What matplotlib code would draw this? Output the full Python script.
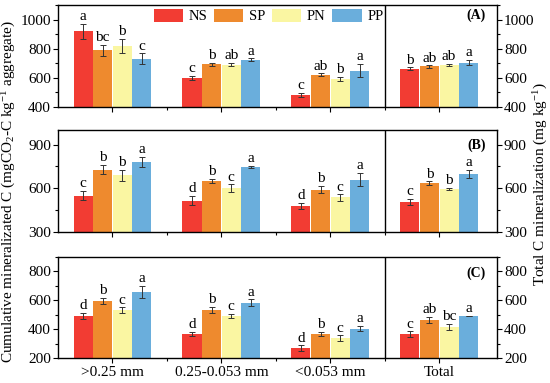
import matplotlib
matplotlib.use("Agg")
import matplotlib.pyplot as plt
from matplotlib.ticker import MultipleLocator, FixedLocator
import numpy as np

plt.rcParams['font.family'] = ['Liberation Serif', 'DejaVu Serif']
plt.rcParams['mathtext.fontset'] = 'custom'
plt.rcParams['mathtext.rm'] = 'Liberation Serif'
plt.rcParams['mathtext.it'] = 'Liberation Serif:italic'
plt.rcParams['mathtext.bf'] = 'Liberation Serif:bold'

categories = ['>0.25 mm', '0.25-0.053 mm', '<0.053 mm', 'Total']
treatments = ['NS', 'SP', 'PN', 'PP']
colors = ['#F23C33', '#EE8A2E', '#FAF6A2', '#6AAEDC']

# Panel A (rows: NS, SP, PN, PP; columns: categories)
a_means = [[920, 597, 483, 662], [788, 692, 621, 678], [820, 690, 591, 690], [730, 724, 650, 705]]
a_errs = [[50, 15, 15, 10], [40, 12, 10, 8], [47, 12, 15, 8], [38, 10, 45, 17]]
a_letters = [['a', 'c', 'c', 'b'], ['bc', 'b', 'ab', 'ab'], ['b', 'ab', 'b', 'ab'], ['c', 'a', 'a', 'a']]

# Panel B
b_means = [[550, 515, 481, 505], [728, 652, 590, 636], [690, 601, 537, 597], [782, 746, 659, 698]]
b_errs = [[32, 32, 20, 22], [33, 15, 25, 12], [38, 25, 22, 8], [35, 8, 45, 28]]
b_letters = [['c', 'd', 'd', 'c'], ['b', 'b', 'b', 'b'], ['b', 'c', 'c', 'b'], ['a', 'a', 'a', 'a']]

# Panel C
c_means = [[490, 368, 268, 366], [594, 531, 368, 462], [531, 490, 336, 416], [656, 583, 403, 490]]
c_errs = [[20, 15, 20, 18], [20, 22, 15, 22], [18, 15, 20, 22], [43, 22, 17, 3]]
c_letters = [['d', 'd', 'd', 'c'], ['b', 'b', 'b', 'ab'], ['c', 'c', 'c', 'bc'], ['a', 'a', 'a', 'a']]

panels = [
    ('(A)', a_means, a_errs, a_letters, (400, 1100), 200, 100, 0.90),
    ('(B)', b_means, b_errs, b_letters, (300, 1000), 300, 150, 0.85),
    ('(C)', c_means, c_errs, c_letters, (200, 900), 200, 100, 0.84),
]

fig = plt.figure(figsize=(5.5, 3.83), dpi=100)
W, H = 550, 383
left, right = 58 / W, 497 / W
rows = [(5, 107), (130, 232), (256.7, 358)]

fs = 11
offsets = np.array([-0.27, -0.09, 0.09, 0.27])
bw = 0.175
xpos = np.arange(len(categories)) + 0.5

for i, (lab, means, errs, letters, ylim, major, minor, ly) in enumerate(panels):
    top, bot = rows[i]
    ax = fig.add_axes([left, 1 - bot / H, right - left, (bot - top) / H])
    for k, t in enumerate(treatments):
        xs = xpos + offsets[k]
        ax.bar(xs, means[k], width=bw, color=colors[k], label=t, zorder=2)
        ax.errorbar(xs, means[k], yerr=errs[k], fmt='none', ecolor='#333333',
                    elinewidth=0.7, capsize=2.3, capthick=0.7, zorder=3)
        for j in range(len(categories)):
            ax.annotate(letters[k][j], (xs[j], means[k][j] + errs[k][j]),
                        xytext=(0, 0.5), textcoords='offset points',
                        ha='center', va='bottom', fontsize=fs)
    ax.axvline(3, color='black', lw=1.0, zorder=4)
    ax.set_xlim(0, 4.03)
    ax.set_ylim(*ylim)
    ax.yaxis.set_major_locator(MultipleLocator(major))
    ax.yaxis.set_minor_locator(MultipleLocator(minor))
    ax.xaxis.set_major_locator(FixedLocator(xpos))
    ax.xaxis.set_minor_locator(FixedLocator([1, 2, 3]))
    ax.tick_params(axis='y', which='both', direction='out', left=True, right=True,
                   labelleft=True, labelright=True, labelsize=fs, pad=1.5)
    ax.tick_params(axis='x', which='both', direction='out', labelsize=fs, pad=2)
    ax.tick_params(which='major', length=3.5, width=0.8)
    ax.tick_params(which='minor', length=2, width=0.8)
    if i == 2:
        ax.set_xticklabels(categories)
    else:
        ax.set_xticklabels([])
    for s in ax.spines.values():
        s.set_linewidth(1.0)
    ax.text(0.975, ly, lab, transform=ax.transAxes, ha='right', va='center',
            fontsize=fs - 1, fontweight='bold')
    if i == 0:
        ax.legend(loc='upper left', bbox_to_anchor=(0.218, 0.965), ncol=4,
                  frameon=False, fontsize=fs - 0.5, handlelength=2.0, handleheight=1.0,
                  handletextpad=0.4, columnspacing=0.45, borderpad=0, borderaxespad=0)

fig.text(0.016, 0.5, 'Cumulative mineralizated C (mgCO$_\\mathregular{2}$-C kg$^\\mathregular{-1}$ aggregate)',
         rotation=90, ha='center', va='center', fontsize=11)
fig.text(0.983, 0.52, 'Total C mineralization (mg kg$^\\mathregular{-1}$)',
         rotation=90, ha='center', va='center', fontsize=11)

fig.savefig('out.png', dpi=100)
